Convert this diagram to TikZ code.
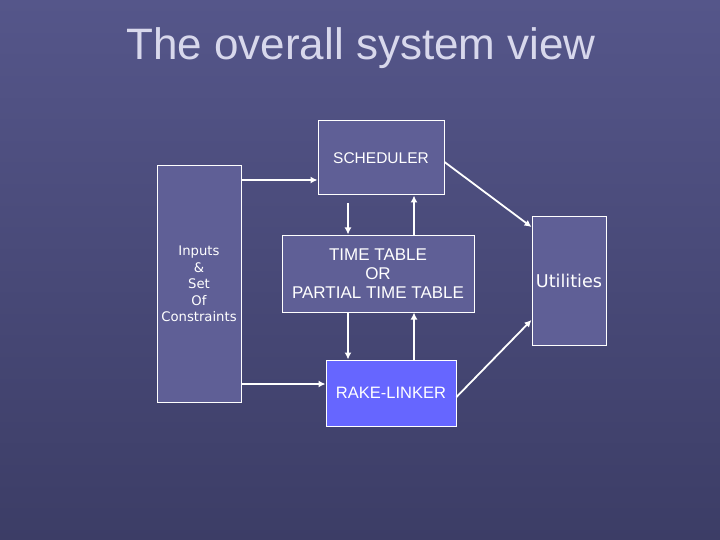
\documentclass[tikz,border=0pt]{standalone}
\usepackage{fontspec}
\setmainfont{Liberation Sans}
\newfontfamily\tah{DejaVu Sans}[Scale=0.88]
\begin{document}
\begin{tikzpicture}[x=1pt,y=-1pt,
  box/.style={draw=white,line width=1pt,fill=boxc,text=white,inner sep=0pt,font=\fontsize{15.5}{17}\selectfont},
  arr/.style={draw=white,line width=1.8pt,-{Latex[length=7pt,width=7pt]}}]
\usetikzlibrary{arrows.meta}
\definecolor{bgt}{HTML}{55568A}
\definecolor{bgb}{HTML}{3C3D66}
\definecolor{boxc}{HTML}{5F5F96}
\definecolor{rake}{HTML}{6666FF}
\definecolor{titlec}{HTML}{D8D8EC}
\fill[top color=bgt,bottom color=bgb] (0,0) rectangle (720,540);
\useasboundingbox (0,0) rectangle (720,540);
\node[text=titlec,font=\fontsize{44}{48}\selectfont] (title) at (361,48) {The overall system view};
\node[box,minimum width=126pt,minimum height=74pt] (sch) at (381,158) {SCHEDULER};
\node[box,minimum width=84pt,minimum height=236pt,align=center,font=\tah\fontsize{15}{16.5}\selectfont] (inp) at (199,284) {Inputs\\ \&\\ Set\\ Of\\ Constraints};
\node[box,minimum width=192pt,minimum height=77pt,align=center,font=\fontsize{17}{19}\selectfont] (tt) at (378,273.5) {TIME TABLE\\OR\\PARTIAL TIME TABLE};
\node[box,fill=rake,minimum width=130pt,minimum height=66pt,font=\fontsize{16.5}{18}\selectfont] (rk) at (391,393) {RAKE-LINKER};
\node[box,minimum width=74pt,minimum height=128pt,font=\tah\fontsize{20}{22}\selectfont] (ut) at (569,281) {Utilities};
\draw[arr] (inp.east|-0,180) -- (sch.west|-0,180);
\draw[arr] (inp.east|-0,384) -- (rk.west|-0,384);
\draw[arr] (sch.south-|348,0) ++(0,8) -- (tt.north-|348,0);
\draw[arr] (tt.north-|414,0) -- (sch.south-|414,0);
\draw[arr] (tt.south-|348,0) -- (rk.north-|348,0);
\draw[arr] (rk.north-|414,0) -- (tt.south-|414,0);
\draw[arr] (sch.east|-0,162) -- (ut.west|-0,227);
\draw[arr] (rk.east|-0,397) -- (ut.west|-0,320);
\end{tikzpicture}
\end{document}
